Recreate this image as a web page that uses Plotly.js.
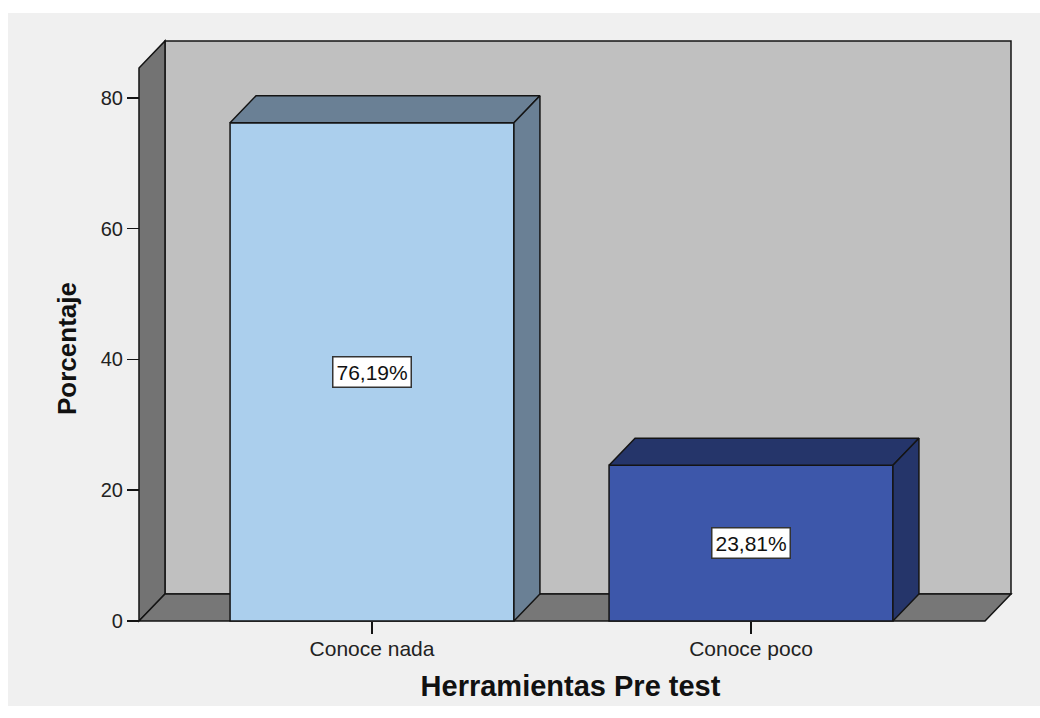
<!DOCTYPE html>
<html>
<head>
<meta charset="utf-8">
<script src="https://cdn.plot.ly/plotly-3.0.1.min.js"></script>
<style>
html,body{margin:0;padding:0;background:#ffffff;}
#chart{position:absolute;left:8px;top:13px;width:1032px;height:693px;}
</style>
</head>
<body>
<div id="chart"></div>
<script>
// ---- data ----
const categories = ["Conoce nada", "Conoce poco"];
const percentages = [76.19, 23.81];
const yTickVals = [0, 20, 40, 60, 80];
const yTickText = ["0", "20", "40", "60", "80"];
const xTitle = "Herramientas Pre test";
const yTitle = "Porcentaje";

// ---- styling ----
const frontColors = ["#abcfed", "#3d57aa"];
const shadeColors = ["#6a8095", "#25356a"];
const edge = "#141414";
const FONT = "'Liberation Sans', Arial, sans-serif";

// 3D geometry in data units
const BAR_W = 0.749;
const DX = 0.0686;
const DY = 4.13;
const X_LEFT = -0.6148;     // front-left corner of the box
const X_RIGHT = 1.686;      // back-right corner of the box
const WALL_TOP = 84.56;     // front top of the left wall
const X_RANGE = [-0.6517, 1.6992];
const Y_RANGE = [-6.116, 89.45];

const xIdx = categories.map((c, i) => i);

const traces = [];
// front faces
traces.push({
  type: "bar",
  x: xIdx,
  y: percentages,
  width: BAR_W,
  marker: {color: frontColors, line: {color: edge, width: 1.5}},
  hoverinfo: "skip",
  showlegend: false
});
// top and side faces built from the values
percentages.forEach((v, i) => {
  const l = i - BAR_W / 2, r = i + BAR_W / 2;
  traces.push({
    type: "scatter", mode: "lines", fill: "toself",
    x: [l, l + DX, r + DX, r, l],
    y: [v, v + DY, v + DY, v, v],
    fillcolor: shadeColors[i],
    line: {color: edge, width: 1.5},
    hoverinfo: "skip", showlegend: false
  });
  traces.push({
    type: "scatter", mode: "lines", fill: "toself",
    x: [r, r, r + DX, r + DX, r],
    y: [0, v, v + DY, DY, 0],
    fillcolor: shadeColors[i],
    line: {color: edge, width: 1.5},
    hoverinfo: "skip", showlegend: false
  });
});

const wallLine = {color: edge, width: 1.5};
const shapes = [
  // back wall
  {type: "path", layer: "below", xref: "x", yref: "y",
   path: `M${X_LEFT + DX},${DY} L${X_LEFT + DX},${WALL_TOP + DY} L${X_RIGHT},${WALL_TOP + DY} L${X_RIGHT},${DY} Z`,
   fillcolor: "#c0c0c0", line: wallLine},
  // left wall
  {type: "path", layer: "below", xref: "x", yref: "y",
   path: `M${X_LEFT},0 L${X_LEFT},${WALL_TOP} L${X_LEFT + DX},${WALL_TOP + DY} L${X_LEFT + DX},${DY} Z`,
   fillcolor: "#737373", line: wallLine},
  // floor
  {type: "path", layer: "below", xref: "x", yref: "y",
   path: `M${X_LEFT},0 L${X_LEFT + DX},${DY} L${X_RIGHT},${DY} L${X_RIGHT - DX},0 Z`,
   fillcolor: "#777777", line: wallLine}
];

const annotations = percentages.map((v, i) => ({
  x: i, y: v / 2, xref: "x", yref: "y",
  text: v.toFixed(2).replace(".", ",") + "%",
  showarrow: false,
  bgcolor: "#ffffff", bordercolor: "#333333", borderwidth: 1.5, borderpad: 3,
  font: {family: FONT, size: 21, color: "#111111"}
}));

const layout = {
  width: 1032, height: 693,
  margin: {l: 117, r: 24, t: 23, b: 45},
  paper_bgcolor: "#f0f0f0",
  plot_bgcolor: "rgba(0,0,0,0)",
  showlegend: false,
  bargap: 0,
  xaxis: {
    range: X_RANGE, anchor: "free", position: 0.064,
    tickvals: xIdx, ticktext: categories,
    ticks: "outside", ticklen: 12, tickwidth: 1.5, tickcolor: edge,
    ticklabelstandoff: -3,
    showgrid: false, zeroline: false, showline: false,
    tickfont: {family: FONT, size: 21, color: "#222222"},
    title: {text: xTitle, standoff: 16, font: {family: FONT, size: 29, color: "#111111", weight: "bold"}}
  },
  yaxis: {
    range: Y_RANGE, anchor: "free", position: 0.01571,
    tickvals: yTickVals, ticktext: yTickText,
    ticks: "outside", ticklen: 12, tickwidth: 1.5, tickcolor: edge,
    showgrid: false, zeroline: false, showline: false,
    tickfont: {family: FONT, size: 20, color: "#222222"},
    title: {text: yTitle, standoff: 15, font: {family: FONT, size: 26, color: "#111111", weight: "bold"}}
  },
  shapes: shapes,
  annotations: annotations
};

Plotly.newPlot("chart", traces, layout, {displayModeBar: false, staticPlot: true});
</script>
</body>
</html>
